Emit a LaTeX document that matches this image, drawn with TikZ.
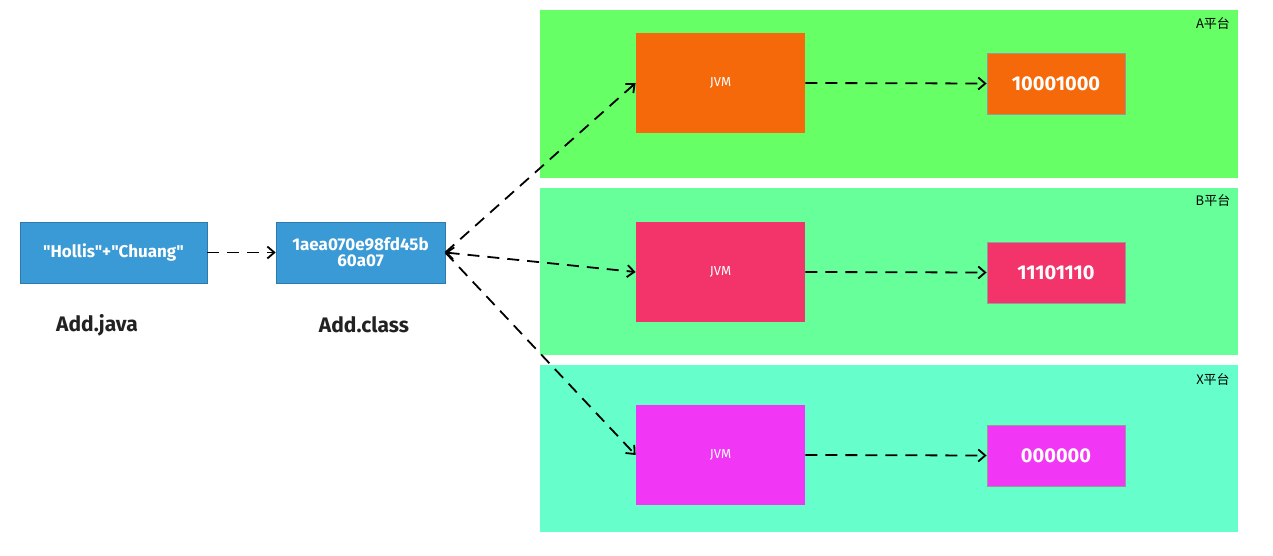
\documentclass[tikz,border=0pt]{standalone}
\usepackage{fontspec}
\setmainfont{Fira Sans}
\newfontfamily\srcf{Fira Sans}[Ligatures=TeXOff]
\newfontfamily\cjkf{Noto Sans CJK SC}
\usetikzlibrary{arrows.meta}
\definecolor{panA}{HTML}{66FF66}
\definecolor{panB}{HTML}{66FF99}
\definecolor{panX}{HTML}{66FFCC}
\definecolor{jvmA}{HTML}{F5690A}
\definecolor{jvmB}{HTML}{F2346A}
\definecolor{jvmX}{HTML}{F236F5}
\definecolor{srcblue}{HTML}{3A9AD6}
\definecolor{inkc}{HTML}{222222}
\tikzset{
  jvmbox/.style={minimum width=84.5pt, minimum height=50pt, inner sep=0pt, text=white, font=\fontsize{6.5}{7}\selectfont},
  resbox/.style={draw=gray!80, line width=0.4pt, minimum width=69pt, minimum height=30.5pt, inner sep=0pt, text=white, font=\bfseries\fontsize{10}{12}\selectfont},
  srcbox/.style={fill=srcblue, draw=srcblue!80!black, line width=0.3pt, minimum height=30.5pt, inner sep=0pt, text=white, font=\srcf\bfseries\fontsize{8.5}{10}\selectfont, align=center},
  caplabel/.style={text=inkc, font=\bfseries\fontsize{10.5}{12}\selectfont},
  platlabel/.style={text=black, font=\cjkf\fontsize{6.5}{8}\selectfont, anchor=center},
  flow/.style={draw=black, line width=0.9pt, dash pattern=on 6pt off 4pt, -{Straight Barb[length=3.5pt,width=6pt]}},
}
\begin{document}
\begin{tikzpicture}[x=0.5pt,y=-0.5pt]
\useasboundingbox[fill=white] (0,0) rectangle (1273,556);
% panels
\fill[panA] (540,10) rectangle (1238,178);
\fill[panB] (540,188) rectangle (1238,355);
\fill[panX] (540,365) rectangle (1238,532);
\node[platlabel] (la) at (1213,24) {A平台};
\node[platlabel] (lb) at (1213,201) {B平台};
\node[platlabel] (lx) at (1213,380) {X平台};
% source boxes
\node[srcbox, minimum width=93.5pt] (java) at (113.5,252.5) {"Hollis"+"Chuang"};
\node[srcbox, minimum width=84.5pt] (cls) at (360.5,252.5) {1aea070e98fd45b\\[-2pt]60a07};
\node[caplabel] (ljava) at (97,325) {Add.java};
\node[caplabel] (lcls) at (364,325) {Add.class};
% JVM boxes
\node[jvmbox, fill=jvmA] (ja) at (720.5,83) {JVM};
\node[jvmbox, fill=jvmB] (jb) at (720.5,272) {JVM};
\node[jvmbox, fill=jvmX] (jx) at (720.5,455) {JVM};
% results
\node[resbox, fill=jvmA] (ra) at (1056,83.5) {10001000};
\node[resbox, fill=jvmB] (rb) at (1056,272.5) {11101110};
\node[resbox, fill=jvmX] (rx) at (1056,455.5) {000000};
% connectors
\draw[flow] (java.east) -- (cls.west);
\draw[flow] (cls.east) -- (ja.west);
\draw[flow, {Straight Barb[length=3.5pt,width=6pt]}-{Straight Barb[length=3.5pt,width=6pt]}] (cls.east) -- (jb.west);
\draw[flow] (cls.east) -- (jx.west);
\draw[flow] (ja.east) -- (ra.west);
\draw[flow] (jb.east) -- (rb.west);
\draw[flow] (jx.east) -- (rx.west);
\end{tikzpicture}
\end{document}
